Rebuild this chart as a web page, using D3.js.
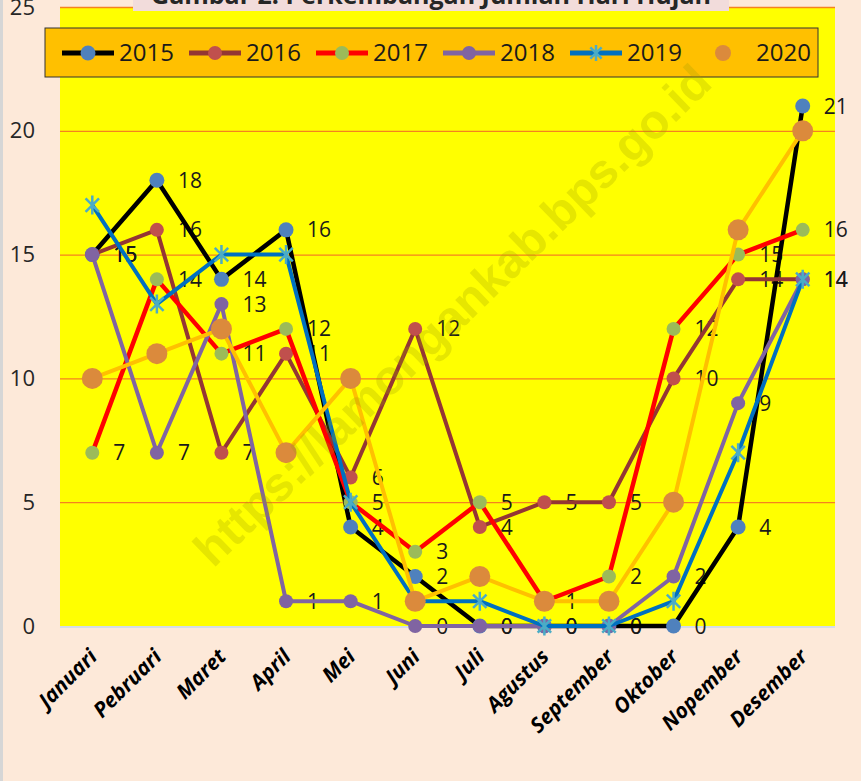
<!DOCTYPE html>
<html>
<head>
<meta charset="utf-8">
<script src="https://cdn.jsdelivr.net/npm/d3@7"></script>
<style>
  body { margin: 0; background: #fde9d9; }
  svg { display: block; font-family: "Open Sans", sans-serif; }
</style>
</head>
<body>
<div id="graf"></div>
<script>
// Data
const bulan = ["Januari", "Pebruari", "Maret", "April", "Mei", "Juni", "Juli",
  "Agustus", "September", "Oktober", "Nopember", "Desember"]
const tahun = ["2015", "2016", "2017", "2018", "2019", "2020"]
const h2015 = [15, 18, 14, 16, 4, 2, 0, 0, 0, 0, 4, 21]
const h2016 = [15, 16, 7, 11, 6, 12, 4, 5, 5, 10, 14, 14]
const h2017 = [7, 14, 11, 12, 5, 3, 5, 1, 2, 12, 15, 16]
const h2018 = [15, 7, 13, 1, 1, 0, 0, 0, 0, 2, 9, 14]
const h2019 = [17, 13, 15, 15, 5, 1, 1, 0, 0, 1, 7, 14]
const h2020 = [10, 11, 12, 7, 10, 1, 2, 1, 1, 5, 16, 20]
const yTicks = [0, 5, 10, 15, 20, 25]
const judul = "Gambar 2. Perkembangan Jumlah Hari Hujan"
const watermark = "https://lamongankab.bps.go.id"

const nilai = { 2015: h2015, 2016: h2016, 2017: h2017, 2018: h2018, 2019: h2019, 2020: h2020 }

// estilos por serie
const gaya = {
  2015: { garis: "#000000", lw: 4.5, isi: "#4f81bd", r: 7.5, tipe: "circle", label: true },
  2016: { garis: "#943634", lw: 4, isi: "#c0504d", r: 7, tipe: "circle", label: true },
  2017: { garis: "#ff0000", lw: 4.5, isi: "#9bbb59", r: 7, tipe: "circle", label: true },
  2018: { garis: "#8064a2", lw: 4, isi: "#8064a2", r: 7, tipe: "circle", label: true },
  2019: { garis: "#0070c0", lw: 4, isi: "#4bacc6", r: 9.5, tipe: "star", label: false },
  2020: { garis: "#ffc000", lw: 4, isi: "#db8a3c", r: 10.5, tipe: "circle", label: false, legendLine: false },
}

const W = 861, H = 781
const plot = { left: 60, right: 835, top: 7, bottom: 626 }

const svg = d3.select("#graf")
  .append("svg")
  .attr("width", W)
  .attr("height", H)

svg.append("rect").attr("width", W).attr("height", H).attr("fill", "#fde9d9")
svg.append("line")
  .attr("x1", 1.5).attr("x2", 1.5).attr("y1", 0).attr("y2", H)
  .attr("stroke", "#d6d6d6").attr("stroke-width", 3)

// Escaladores
const x = d3.scaleBand().domain(bulan).range([plot.left, plot.right])
const y = d3.scaleLinear().domain([0, 25]).range([plot.bottom, plot.top])
const cx = (m) => x(m) + x.bandwidth() / 2

// area
svg.append("rect")
  .attr("x", plot.left).attr("y", plot.top)
  .attr("width", plot.right - plot.left).attr("height", plot.bottom - plot.top)
  .attr("fill", "#ffff00")

// grid + eje y
const gy = svg.append("g")
  .attr("transform", `translate(${plot.left},0)`)
  .call(d3.axisLeft(y).tickValues(yTicks).tickSize(-(plot.right - plot.left)).tickPadding(25))
gy.select(".domain").remove()
gy.selectAll(".tick line")
  .attr("stroke", (d) => (d === 0 ? "none" : "#f5821f"))
  .attr("stroke-width", 1.3)
gy.selectAll(".tick text")
  .attr("font-family", "Open Sans")
  .attr("font-size", 22)
  .attr("fill", "#262626")

// eje x
svg.append("line")
  .attr("x1", plot.left).attr("x2", plot.right)
  .attr("y1", plot.bottom + 1).attr("y2", plot.bottom + 1)
  .attr("stroke", "#d5dde8").attr("stroke-width", 2)

const gx = svg.append("g")
  .attr("transform", `translate(0,${plot.bottom})`)
  .call(d3.axisBottom(x).tickSize(0).tickPadding(0))
gx.select(".domain").remove()
gx.selectAll(".tick text")
  .attr("font-family", "Open Sans")
  .attr("font-size", 21)
  .attr("font-weight", "bold")
  .attr("font-style", "italic")
  .attr("fill", "#000")
  .attr("text-anchor", "end")
  .attr("dy", null)
  .attr("transform", "translate(6,32) rotate(-45)")

// title (cut at top)
svg.append("rect")
  .attr("x", 133).attr("y", -30).attr("width", 596).attr("height", 41)
  .attr("fill", "#f2dcdb")
svg.append("text")
  .attr("x", 431).attr("y", 4)
  .attr("text-anchor", "middle")
  .attr("font-size", 25).attr("font-weight", "bold")
  .attr("fill", "#262626")
  .text(judul)

// legend
const leg = svg.append("g")
leg.append("rect")
  .attr("x", 45).attr("y", 28).attr("width", 773).attr("height", 49)
  .attr("fill", "#ffc000").attr("stroke", "#333").attr("stroke-width", 1)

const bintang = {
  draw(ctx, size) {
    const r = Math.sqrt(size) / 2
    const d = r * Math.SQRT1_2
    ctx.moveTo(0, -r); ctx.lineTo(0, r)
    ctx.moveTo(-d, -d); ctx.lineTo(d, d)
    ctx.moveTo(-d, d); ctx.lineTo(d, -d)
  },
}

const drawMarker = (sel, s) => {
  if (s.tipe === "star") {
    sel.append("path")
      .attr("d", d3.symbol(bintang, (2 * s.r) ** 2)())
      .attr("fill", "none").attr("stroke", s.isi).attr("stroke-width", 2.5)
  } else {
    sel.append("circle").attr("r", s.r).attr("fill", s.isi)
  }
}

tahun.forEach((t, i) => {
  const s = gaya[t]
  const item = leg.append("g").attr("transform", `translate(${62 + i * 127},53)`)
  if (s.legendLine !== false) {
    item.append("line").attr("x1", 0).attr("x2", 52)
      .attr("stroke", s.garis).attr("stroke-width", 5)
  }
  drawMarker(item.append("g").attr("transform", "translate(26,0)"), { ...s, r: s.tipe === "star" ? 8 : Math.min(s.r, 8) })
  item.append("text").attr("x", t === "2020" ? 59 : 57).attr("dy", "0.35em")
    .attr("font-size", 24).attr("fill", "#1a1a1a").text(t)
})

// data labels (under lines)
const labels = svg.append("g")
tahun.filter((t) => gaya[t].label).forEach((t) => {
  labels.selectAll(null)
    .data(nilai[t])
    .join("text")
    .attr("x", (d, i) => cx(bulan[i]) + 21)
    .attr("y", (d) => y(d))
    .attr("dy", "0.36em")
    .attr("font-size", 21)
    .attr("fill", "#1a1a1a")
    .text((d) => d)
})

// series
const linea = d3.line().x((d, i) => cx(bulan[i])).y((d) => y(d))
tahun.forEach((t) => {
  const s = gaya[t]
  const g = svg.append("g")
  g.append("path")
    .attr("d", linea(nilai[t]))
    .attr("fill", "none")
    .attr("stroke", s.garis)
    .attr("stroke-width", s.lw)
    .attr("stroke-linejoin", "round")
  nilai[t].forEach((v, i) => {
    drawMarker(g.append("g").attr("transform", `translate(${cx(bulan[i])},${y(v)})`), s)
  })
})

// watermark
svg.append("text")
  .attr("transform", "translate(452,315) rotate(-44)")
  .attr("text-anchor", "middle")
  .attr("dy", "0.35em")
  .attr("font-family", "Liberation Sans")
  .attr("font-weight", "bold")
  .attr("font-size", 48)
  .attr("fill", "#a0a000")
  .attr("opacity", 0.26)
  .text(watermark)
</script>
</body>
</html>
